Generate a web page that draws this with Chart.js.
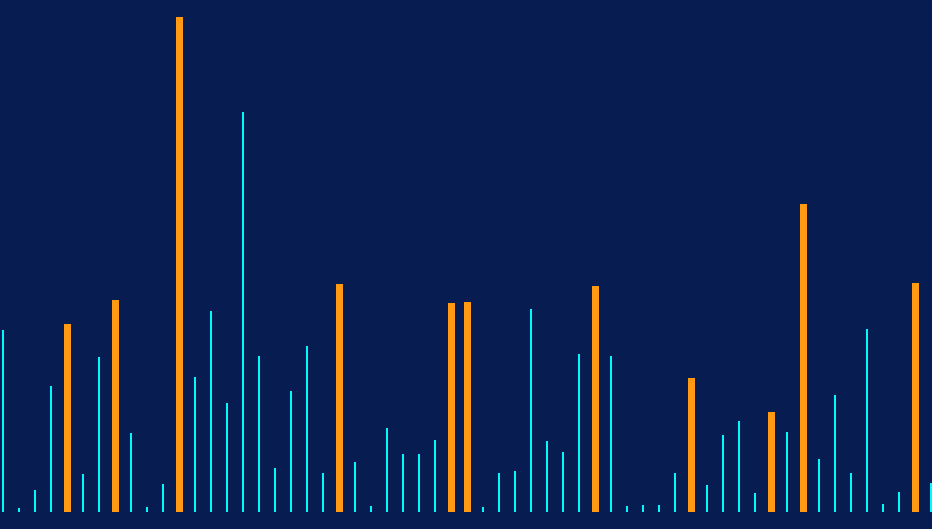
<!DOCTYPE html>
<html>
<head>
<meta charset="utf-8">
<script src="https://cdn.jsdelivr.net/npm/chart.js@4/dist/chart.umd.min.js"></script>
<style>
  html, body { margin: 0; padding: 0; background: #071D52; }
  #wrap { width: 932px; height: 529px; position: relative; background: #071D52; }
</style>
</head>
<body>
<div id="wrap"><canvas id="c"></canvas></div>
<script>
const categories = Array.from({length: 59}, (_, i) => String(i + 1));
const values = [
  182, 4, 22, 126, 188, 38, 155, 212, 79, 5,
  28, 495, 135, 201, 109, 400, 156, 44, 121, 166,
  39, 228, 50, 6, 84, 58, 58, 72, 209, 210,
  5, 39, 41, 203, 71, 60, 158, 226, 156, 6,
  7, 7, 39, 134, 27, 77, 91, 19, 100, 80,
  308, 53, 117, 39, 183, 8, 20, 229, 29
];
const highlighted = [4, 7, 11, 21, 28, 29, 37, 43, 48, 50, 57];

const normalSeries = values.map((v, i) => highlighted.includes(i) ? null : v);
const highlightSeries = values.map((v, i) => highlighted.includes(i) ? v : null);

const BG = '#071D52';

new Chart(document.getElementById('c'), {
  type: 'bar',
  data: {
    labels: categories,
    datasets: [
      { data: normalSeries, backgroundColor: '#00FAFF', barThickness: 2, grouped: false, clip: false,
        borderWidth: 0, inflateAmount: 0 },
      { data: highlightSeries, backgroundColor: '#FF9A12', barThickness: 8, grouped: false, clip: false,
        borderWidth: { left: 1, right: 0, top: 0, bottom: 0 }, borderColor: BG, borderSkipped: 'start', inflateAmount: 0 }
    ]
  },
  options: {
    responsive: true,
    maintainAspectRatio: false,
    animation: false,
    layout: { padding: { left: 3, right: 1, top: 17, bottom: 17 } },
    plugins: { legend: { display: false }, tooltip: { enabled: false } },
    scales: {
      x: { type: 'category', offset: false, display: false },
      y: { display: false, min: 0, max: Math.max(...values) }
    }
  }
});
</script>
</body>
</html>
